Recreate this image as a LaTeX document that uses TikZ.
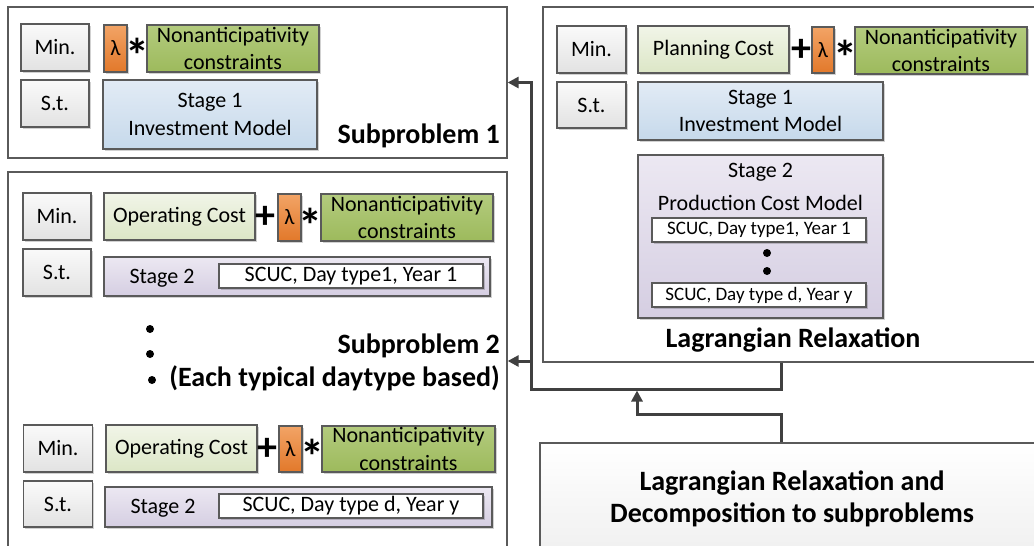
\documentclass[tikz,border=0pt]{standalone}
\usepackage{fontspec}
\setmainfont{Carlito}
\usetikzlibrary{arrows.meta,shadows}

\definecolor{edge}{HTML}{5A5A5A}
\definecolor{wire}{HTML}{404040}
\definecolor{keytop}{HTML}{FAFAFA}
\definecolor{keybot}{HTML}{E2E2E2}
\definecolor{costtop}{HTML}{F1F5E8}
\definecolor{costbot}{HTML}{DCE6C6}
\definecolor{lamtop}{HTML}{F2A466}
\definecolor{lambot}{HTML}{E2782A}
\definecolor{nontop}{HTML}{B3CB7E}
\definecolor{nonbot}{HTML}{9DBA5C}
\definecolor{invtop}{HTML}{E2EBF5}
\definecolor{invbot}{HTML}{C6D9EB}
\definecolor{stgtop}{HTML}{ECE8F2}
\definecolor{stgbot}{HTML}{D5CEE2}

\tikzset{
  cell/.style={draw=edge, line width=1.1pt, inner sep=0pt, align=center,
    font=\fontsize{22}{27.5}\selectfont,
    drop shadow={shadow xshift=1.5pt, shadow yshift=-1.5pt, fill=black, opacity=0.18}},
  keybox/.style={cell, top color=keytop, bottom color=keybot},
  costbox/.style={cell, top color=costtop, bottom color=costbot},
  lambox/.style={cell, top color=lamtop, bottom color=lambot},
  nonbox/.style={cell, top color=nontop, bottom color=nonbot},
  invbox/.style={cell, top color=invtop, bottom color=invbot},
  stgbox/.style={cell, top color=stgtop, bottom color=stgbot},
  scucbox/.style={cell, fill=white},
  smallscuc/.style={scucbox, font=\fontsize{19}{23}\selectfont},
  outer/.style={draw=edge, line width=1.3pt, fill=white, inner sep=0pt},
  bigtext/.style={font=\bfseries\fontsize{28}{32}\selectfont, inner sep=0pt, align=center},
  plaintext/.style={font=\fontsize{22}{26}\selectfont, inner sep=0pt},
  plussym/.style={font=\bfseries\fontsize{40}{40}\selectfont, inner sep=0pt},
  starsym/.style={font=\bfseries\fontsize{48}{48}\selectfont, inner sep=0pt, yshift=-7pt},
  bullet/.style={circle, fill=black, minimum size=8pt, inner sep=0pt},
  conn/.style={draw=wire, line width=3pt},
  arrowtip/.style={-{Triangle[length=11pt,width=11pt]}},
}

\begin{document}
\begin{tikzpicture}[x=1pt,y=-1pt]
\useasboundingbox (0,0) rectangle (1034,546);
\clip (0,0) rectangle (1034,546);

% ---- outer frames ----
\node[outer, minimum width=499, minimum height=151] (sp1) at (257.5,82.5) {};
\node[outer, minimum width=499, minimum height=388] (sp2) at (257.5,366) {};
\node[outer, minimum width=499, minimum height=355] (lr) at (792.5,184.5) {};
\node[outer, bigtext, top color=white, bottom color=gray!12,
      minimum width=504, minimum height=112] (dec) at (792,499)
      {Lagrangian Relaxation and\\Decomposition to subproblems};

% ---- Subproblem 1 ----
\node[keybox, minimum width=68, minimum height=47] (min1) at (55,47.5) {Min.};
\node[keybox, minimum width=68, minimum height=47] (st1) at (55,103.5) {S.t.};
\node[lambox, minimum width=23, minimum height=47] (lam1) at (115.5,48.5) {λ};
\node[starsym] (star1) at (137,48) {*};
\node[nonbox, minimum width=172, minimum height=47] (non1) at (233,48.5) {Nonanticipativity\\constraints};
\node[invbox, minimum width=214, minimum height=69] (inv1) at (210,114.5) {Stage 1\\Investment Model};
\node[bigtext, anchor=base east] (sp1label) at (500,143) {Subproblem 1};

% ---- Subproblem 2, first day type ----
\node[keybox, minimum width=68, minimum height=47] (min2) at (57,216.5) {Min.};
\node[costbox, minimum width=151, minimum height=47] (op2) at (179.5,216.5) {Operating Cost};
\node[plussym] (plus2) at (265,217) {+};
\node[lambox, minimum width=23, minimum height=47] (lam2) at (289.5,217.5) {λ};
\node[starsym] (star2) at (310,218) {*};
\node[nonbox, minimum width=172, minimum height=47] (non2) at (407,217.5) {Nonanticipativity\\constraints};
\node[keybox, minimum width=68, minimum height=47] (st2) at (57,272.5) {S.t.};
\node[stgbox, minimum width=386, minimum height=39] (stg2) at (297,276.5) {};
\node[plaintext, anchor=base] (stg2label) at (162,283) {Stage 2};
\node[scucbox, minimum width=264, minimum height=24] (scuc2) at (351,276) {SCUC, Day type1, Year 1};

\node[bullet] (d1) at (150,329) {};
\node[bullet] (d2) at (150,354) {};
\node[bullet] (d3) at (152,380) {};
\node[bigtext, anchor=base east] (sp2label) at (500,353) {Subproblem 2};
\node[bigtext, anchor=base east] (sp2note) at (500,386) {(Each typical daytype based)};

% ---- Subproblem 2, last day type ----
\node[keybox, minimum width=69, minimum height=47] (min3) at (58,448.5) {Min.};
\node[costbox, minimum width=151, minimum height=47] (op3) at (181.5,448.5) {Operating Cost};
\node[plussym] (plus3) at (267,449) {+};
\node[lambox, minimum width=23, minimum height=46] (lam3) at (290.5,449) {λ};
\node[starsym] (star3) at (312,449) {*};
\node[nonbox, minimum width=173, minimum height=46] (non3) at (408.5,449) {Nonanticipativity\\constraints};
\node[keybox, minimum width=69, minimum height=46] (st3) at (58,504) {S.t.};
\node[stgbox, minimum width=387, minimum height=40] (stg3) at (298.5,507) {};
\node[plaintext, anchor=base] (stg3label) at (163,513.5) {Stage 2};
\node[scucbox, minimum width=264, minimum height=24] (scuc3) at (351,506) {SCUC, Day type d, Year y};

% ---- Lagrangian relaxation ----
\node[keybox, minimum width=69, minimum height=47] (minR) at (591.5,49.5) {Min.};
\node[costbox, minimum width=151, minimum height=47] (plan) at (713.5,49.5) {Planning Cost};
\node[plussym] (plusR) at (801,50) {+};
\node[lambox, minimum width=22, minimum height=46] (lamR) at (823,50) {λ};
\node[starsym] (starR) at (845,50) {*};
\node[nonbox, minimum width=172, minimum height=47] (nonR) at (941,50.5) {Nonanticipativity\\constraints};
\node[keybox, minimum width=69, minimum height=46] (stR) at (591.5,105) {S.t.};
\node[invbox, minimum width=245, minimum height=58] (invR) at (760.5,111) {Stage 1\\Investment Model};
\node[stgbox, minimum width=245, minimum height=163] (stgR) at (760.5,236.5) {};
\node[plaintext, anchor=base] (stgRa) at (760.5,177) {Stage 2};
\node[plaintext, anchor=base] (stgRb) at (760.5,210) {Production Cost Model};
\node[smallscuc, minimum width=214, minimum height=24] (scucR1) at (759,230) {SCUC, Day type1, Year 1};
\node[bullet] (dR1) at (767,253) {};
\node[bullet] (dR2) at (767,271) {};
\node[smallscuc, minimum width=214, minimum height=24] (scucR2) at (759,295) {SCUC, Day type d, Year y};
\node[bigtext, anchor=base] (lrlabel) at (793,347) {Lagrangian Relaxation};

% ---- connectors ----
\coordinate (bus) at (531,389);
\coordinate (a2) at (531,361);
\coordinate (up) at (637,414);
\draw[conn, arrowtip] ([xshift=-11.5pt]lr.south) |- (bus) |- (sp1.east);
\draw[conn, arrowtip] (a2) -- (a2 -| sp2.east);
\draw[conn, arrowtip] ([xshift=-11pt]dec.north) |- (up) -- ([yshift=-1.5pt]up |- bus);
\end{tikzpicture}
\end{document}
